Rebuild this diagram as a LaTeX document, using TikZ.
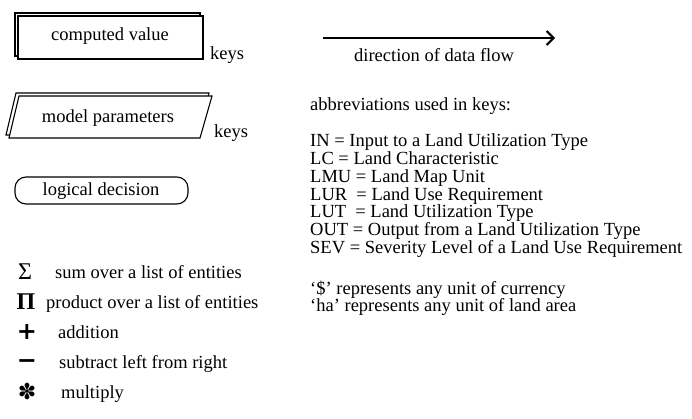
\documentclass[tikz,border=0pt]{standalone}
\usepackage{fontspec}
\setmainfont{Liberation Serif}
\newfontfamily\symfont{DejaVu Sans}
\usetikzlibrary{arrows.meta}
\begin{document}
\begin{tikzpicture}[x=1pt,y=-1pt,
  txt/.style={font=\fontsize{18.5}{20}\selectfont, inner sep=0pt, anchor=base west},
  ctxt/.style={font=\fontsize{18.5}{20}\selectfont, inner sep=0pt, anchor=base},
  sym/.style={font=\fontsize{24}{26}\selectfont, inner sep=0pt, anchor=base},
  shp/.style={draw, line width=1.1pt, fill=white},
  flow/.style={line width=2pt, -{Straight Barb[length=7pt,width=14pt,line width=2pt]}}]
\useasboundingbox (0,0) rectangle (692,419);
% computed value
\draw[shp] (15,13) rectangle (200,56);
\draw[shp] (18,16) rectangle (203,59);
\node[ctxt] (cv) at (110,41) {computed value};
\node[txt] (k1) at (210,60) {keys};
% model parameters
\draw[shp] (16,93) -- (209,93) -- (197,135) -- (6,135) -- cycle;
\draw[shp] (19,96) -- (212,96) -- (200,138) -- (9,138) -- cycle;
\node[ctxt] (mp) at (108,123) {model parameters};
\node[txt] (k2) at (214,138) {keys};
% logical decision
\draw[shp, rounded corners=11pt] (15,177) rectangle (188,204);
\node[ctxt] (ld) at (101,196) {logical decision};
% operators
\node[sym] (s1) at (25,279) {Σ};
\node[txt] (t1) at (55,278) {sum over a list of entities};
\node[sym] (s2) at (26,309) {\bfseries Π};
\node[txt] (t2) at (46,308) {product over a list of entities};
\node[sym] (s3) at (27,339) {\symfont\bfseries +};
\node[txt] (t3) at (58,338) {addition};
\node[sym] (s4) at (27,368) {\symfont\bfseries −};
\node[txt] (t4) at (59,368) {subtract left from right};
\node[sym] (s5) at (27,399) {\symfont\fontsize{22}{24}\selectfont ✽};
\node[txt] (t5) at (61,398) {multiply};
% flow arrow
\coordinate (fa) at (323,38);
\coordinate (fb) at (555,38);
\draw[flow] (fa) -- (fb);
\node[ctxt] (df) at (434,62) {direction of data flow};
% abbreviations
\node[txt] (ab) at (310,111) {abbreviations used in keys:};
\node[txt] (a1) at (310,147) {IN = Input to a Land Utilization Type};
\node[txt] (a2) at (310,164.7) {LC = Land Characteristic};
\node[txt] (a3) at (310,182.4) {LMU = Land Map Unit};
\node[txt] (a4) at (310,200.1) {LUR \ = Land Use Requirement};
\node[txt] (a5) at (310,217.8) {LUT \ = Land Utilization Type};
\node[txt] (a6) at (310,235.5) {OUT = Output from a Land Utilization Type};
\node[txt] (a7) at (310,253.2) {SEV = Severity Level of a Land Use Requirement};
\node[txt] (a8) at (310,294) {‘\$’ represents any unit of currency};
\node[txt] (a9) at (310,311) {‘ha’ represents any unit of land area};
\end{tikzpicture}
\end{document}
